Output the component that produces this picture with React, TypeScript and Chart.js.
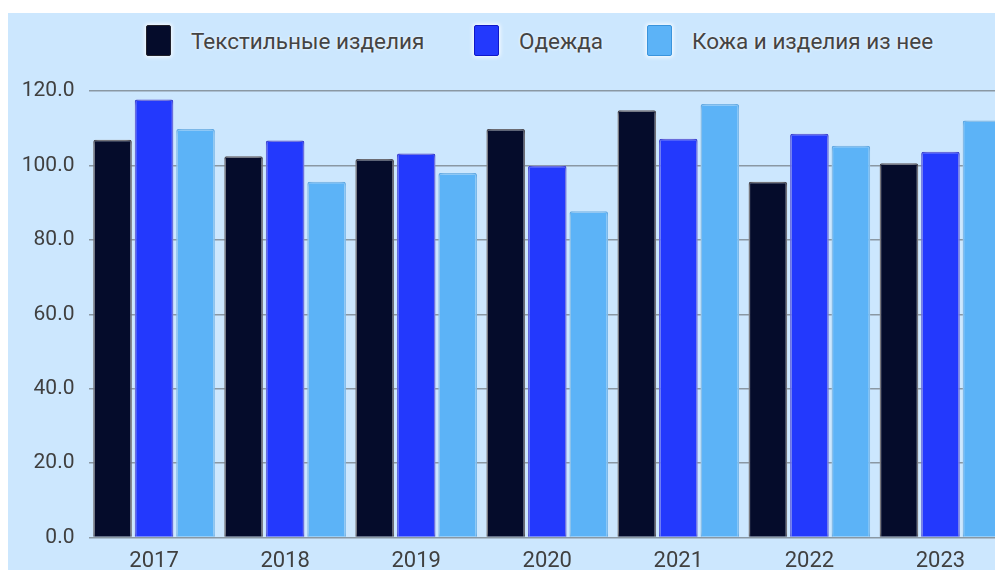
import React, { useEffect, useRef } from "react";
import { Chart, registerables } from "chart.js";

Chart.register(...registerables);

const years = ["2017", "2018", "2019", "2020", "2021", "2022", "2023"];
const textiles = [106.9, 102.5, 101.7, 109.8, 114.8, 95.6, 100.6];
const clothing = [117.7, 106.7, 103.2, 99.9, 107.2, 108.5, 103.7];
const leather = [109.8, 95.6, 98.0, 87.7, 116.5, 105.3, 112.1];
const seriesNames = ["Текстильные изделия", "Одежда", "Кожа и изделия из нее"];
const fills = ["#050c2b", "#2339fd", "#5cb3f7"];
const borders = ["#22222c", "#1018c8", "#3a94dc"];
const legendLefts = [138, 466, 639];

const FONT = "Roboto, 'Liberation Sans', sans-serif";

const glowPlugin = {
  id: "glow",
  beforeDatasetsDraw(chart: any) {
    const c = chart.ctx;
    c.save();
    c.shadowColor = "rgba(255,255,255,0.95)";
    c.shadowBlur = 5;
  },
  afterDatasetsDraw(chart: any) {
    chart.ctx.restore();
  },
};

export default function App() {
  const ref = useRef<HTMLCanvasElement | null>(null);

  useEffect(() => {
    if (!ref.current) return;
    const values = [textiles, clothing, leather];
    const chart = new Chart(ref.current, {
      type: "bar",
      data: {
        labels: years,
        datasets: values.map((v, i) => ({
          label: seriesNames[i],
          data: v,
          backgroundColor: fills[i],
          borderColor: borders[i],
          borderWidth: 1.5,
          borderRadius: 2,
          borderSkipped: "bottom",
          barPercentage: 0.93,
          categoryPercentage: 0.95,
        })),
      },
      options: {
        animation: false,
        responsive: false,
        maintainAspectRatio: false,
        layout: { padding: { left: 10, right: 12, top: 78, bottom: 4 } },
        plugins: {
          legend: { display: false },
          tooltip: { enabled: false },
        },
        scales: {
          x: {
            grid: { display: false, drawTicks: false },
            border: { display: false },
            ticks: {
              color: "#404040",
              font: { family: FONT, size: 22 },
              padding: 11,
            },
          },
          y: {
            min: 0,
            max: 120,
            afterFit: (scale: any) => {
              scale.width = 70.5;
            },
            grid: { color: "#8a98a3", lineWidth: 1.5, drawTicks: false },
            border: { display: false },
            ticks: {
              stepSize: 20,
              color: "#404040",
              font: { family: FONT, size: 21 },
              padding: 14,
              callback: (v: any) => Number(v).toFixed(1),
            },
          },
        },
      },
      plugins: [glowPlugin],
    });
    return () => chart.destroy();
  }, []);

  return (
    <div
      style={{
        position: "fixed",
        left: 8,
        top: 13,
        width: 987,
        height: 557,
        overflow: "hidden",
        background: "#cce7fe",
      }}
    >
      {seriesNames.map((name, i) => (
        <div
          key={name}
          style={{
            position: "absolute",
            left: legendLefts[i],
            top: 12,
            height: 31,
            display: "flex",
            alignItems: "center",
            whiteSpace: "nowrap",
          }}
        >
          <div
            style={{
              width: 23,
              height: 29,
              background: fills[i],
              border: `1.5px solid ${borders[i]}`,
              borderRadius: 2,
              boxShadow: "0 0 4px 1px rgba(255,255,255,0.95)",
              marginRight: 20,
            }}
          />
          <span
            style={{
              fontFamily: FONT,
              fontSize: 22.5,
              color: "#444",
              textShadow: "0 0 3px #fff",
            }}
          >
            {name}
          </span>
        </div>
      ))}
      <canvas
        ref={ref}
        width={1010}
        height={577}
        style={{ position: "absolute", left: 0, top: 0, width: 1010, height: 577 }}
      />
    </div>
  );
}
